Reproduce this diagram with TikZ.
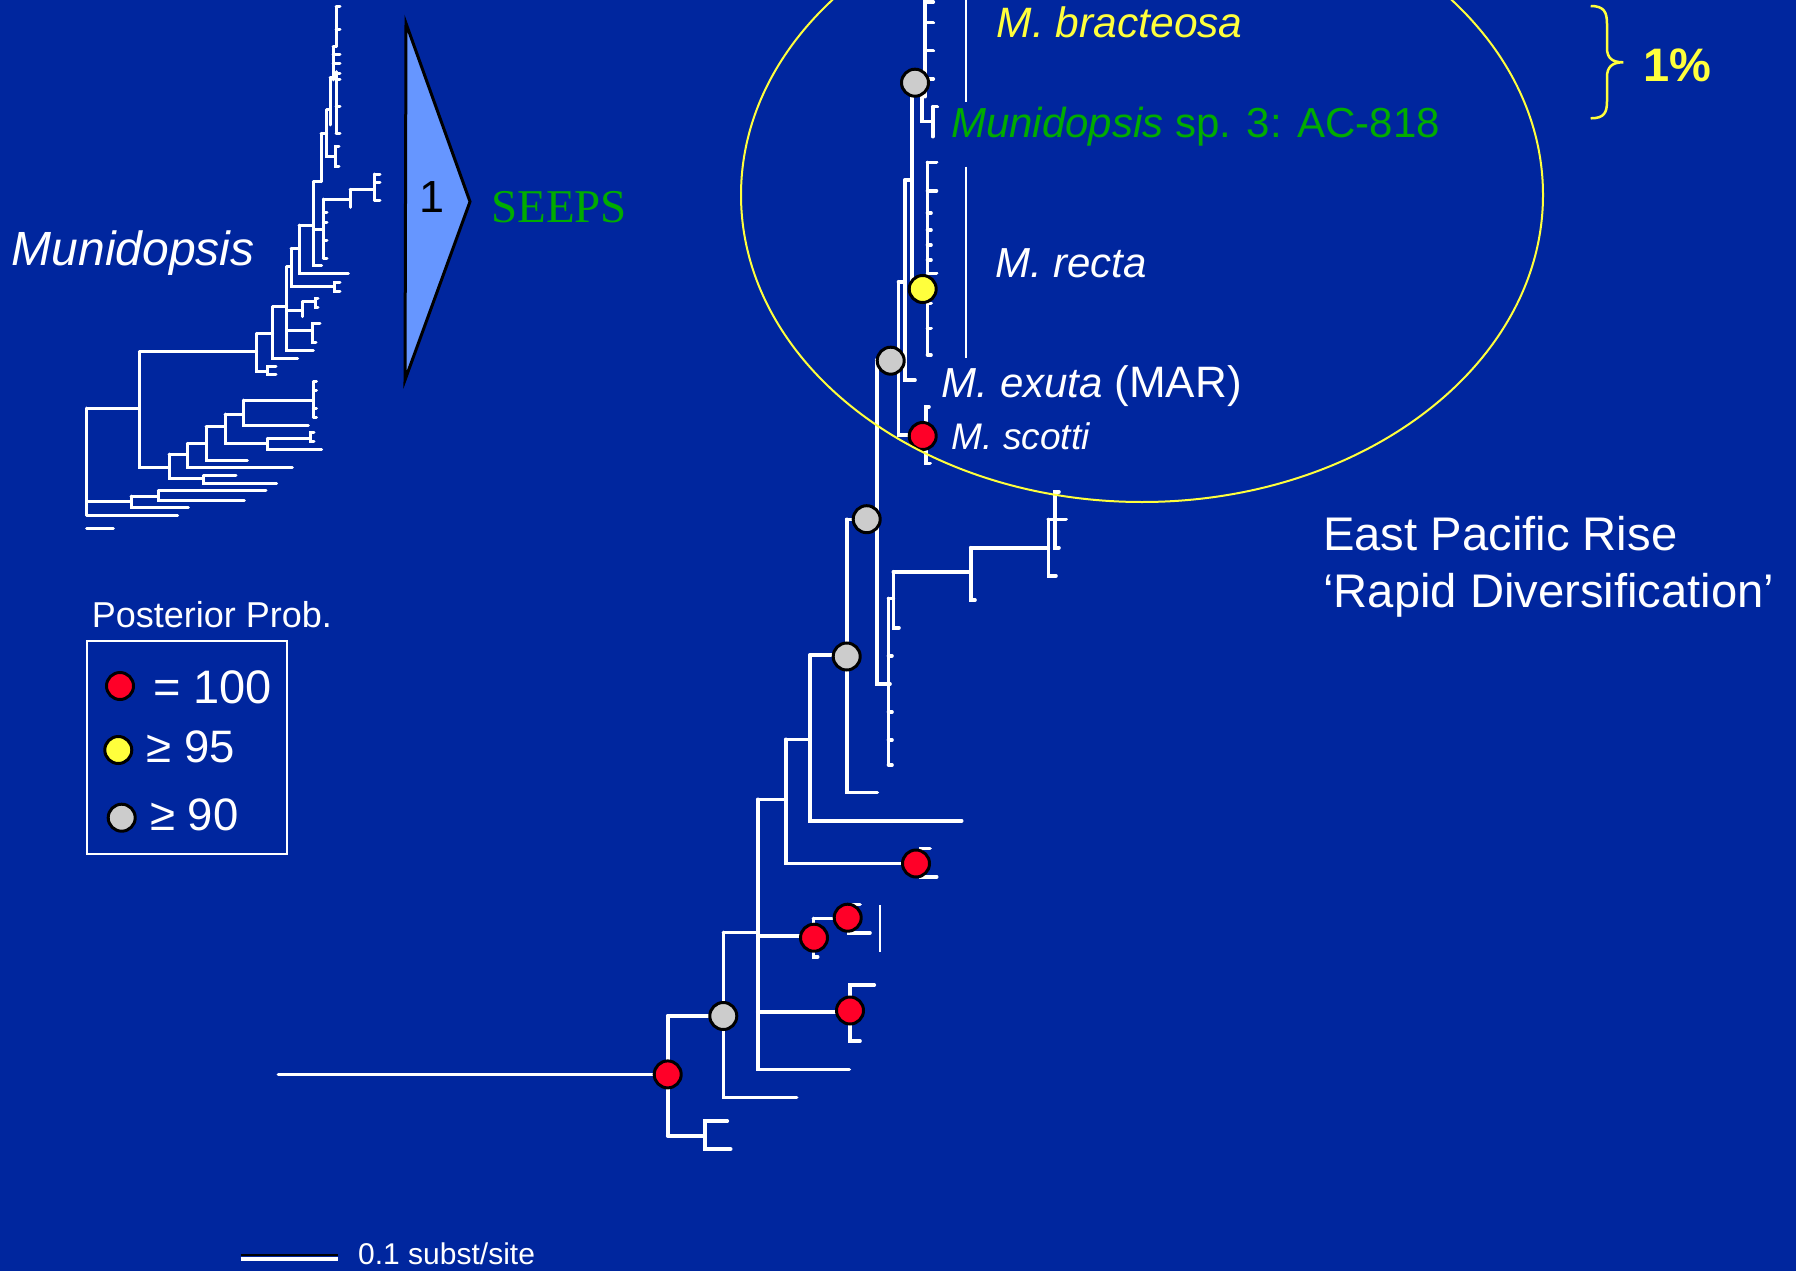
\documentclass[tikz,border=0pt]{standalone}
\usepackage{fontspec}
\setmainfont{Liberation Sans}
\newfontfamily\seriffam{Liberation Serif}
\definecolor{bgblue}{RGB}{0,38,158}
\definecolor{ppyellow}{RGB}{255,255,60}
\definecolor{ppgreen}{RGB}{0,172,0}
\definecolor{ppred}{RGB}{255,0,40}
\definecolor{ppgrey}{RGB}{204,204,204}
\definecolor{trifill}{RGB}{102,150,255}
\newcommand{\fsz}[1]{\fontsize{#1}{#1}\selectfont}
\tikzset{
  br/.style={white, line width=3.6pt, line cap=round},
  lbr/.style={white, line width=3pt, line cap=round},
  bar/.style={white, line width=2.5pt},
  pp/.style={circle, draw=black, line width=3pt, minimum size=27pt, inner sep=0pt},
  lab/.style={anchor=base west, inner sep=0pt, text=white},
}
\begin{document}
\begin{tikzpicture}[x=1pt,y=-1pt]
\fill[bgblue] (0,0) rectangle (1796,1271);
\useasboundingbox (0,0) rectangle (1796,1271);

% ---------------- left (seeps) tree ----------------
\draw[lbr] (86.7,408) -- (86.7,515);
\draw[lbr] (86.7,408) -- (139.3,408);
\draw[lbr] (86.7,501.7) -- (131,501.7);
\draw[lbr] (86.7,515) -- (177.7,515);
\draw[lbr] (86.7,528.3) -- (113.3,528.3);
\draw[lbr] (131,496) -- (131,507.7) -- (188.3,507.7);
\draw[lbr] (131,496) -- (158.3,496);
\draw[lbr] (158.3,490.7) -- (158.3,500) -- (244.3,500);
\draw[lbr] (158.3,490.7) -- (266,490.7);
\draw[lbr] (139.3,351.7) -- (139.3,467.7) -- (169,467.7);
\draw[lbr] (139.3,351.7) -- (256.7,351.7);
\draw[lbr] (169,454) -- (169,478.3) -- (203.3,478.3);
\draw[lbr] (203.3,475.7) -- (203.3,483.3) -- (276.7,483.3);
\draw[lbr] (203.3,475.7) -- (236,475.7);
\draw[lbr] (169,454) -- (187.3,454);
\draw[lbr] (187.3,443.3) -- (187.3,467.7) -- (292.3,467.7);
\draw[lbr] (187.3,443.3) -- (206,443.3);
\draw[lbr] (206,426.7) -- (206,460) -- (247.3,460);
\draw[lbr] (206,426.7) -- (225,426.7);
\draw[lbr] (225,414) -- (225,443.3) -- (267.3,443.3);
\draw[lbr] (267.3,438.3) -- (267.3,449.3) -- (321.7,449.3);
\draw[lbr] (267.3,438.3) -- (310,438.3);
\draw[lbr] (314,432.7) -- (310,432.7) -- (310,441.7) -- (314,441.7);
\draw[lbr] (225,414) -- (243.3,414);
\draw[lbr] (243.3,400) -- (243.3,425) -- (308.3,425);
\draw[lbr] (243.3,400) -- (313.3,400);
\draw[lbr] (313.3,381.7) -- (313.3,417.3);
\foreach \yy in {381.7,390,408,417.3} \draw[lbr] (313.3,\yy) -- (316.5,\yy);
\draw[lbr] (256.7,333.3) -- (256.7,371) -- (267.3,371);
\draw[lbr] (276,366) -- (267.3,366) -- (267.3,374.3) -- (276,374.3);
\draw[lbr] (256.7,333.3) -- (272.7,333.3);
\draw[lbr] (272.7,306.7) -- (272.7,358.3) -- (297.7,358.3);
\draw[lbr] (272.7,306.7) -- (286.7,306.7);
\draw[lbr] (286.7,266.7) -- (286.7,350.7) -- (313.3,350.7);
\draw[lbr] (286.7,330.7) -- (312.3,330.7);
\draw[lbr] (320,323.3) -- (312.3,323.3) -- (312.3,342.3) -- (316,342.3);
\draw[lbr] (286.7,310) -- (302.3,310);
\draw[lbr] (302.3,301.7) -- (302.3,316.7);
\draw[lbr] (302.3,301.7) -- (315,301.7);
\draw[lbr] (318,298.3) -- (315,298.3) -- (315,307.3) -- (318,307.3);
\draw[lbr] (286.7,266.7) -- (291,266.7);
\draw[lbr] (291,248.3) -- (291,286) -- (334,286);
\draw[lbr] (340,282.7) -- (334,282.7) -- (334,291.7) -- (340,291.7);
\draw[lbr] (291,248.3) -- (299,248.3);
\draw[lbr] (299,225) -- (299,273.3) -- (348.3,273.3);
\draw[lbr] (299,225) -- (313.3,225);
\draw[lbr] (313.3,181.7) -- (313.3,265.7) -- (321.7,265.7);
\draw[lbr] (313.3,229) -- (323.3,229);
\draw[lbr] (323.3,199) -- (323.3,258.3);
\foreach \yy in {212,222,240,258.3} \draw[lbr] (323.3,\yy) -- (327,\yy);
\draw[lbr] (323.3,199) -- (350,199);
\draw[lbr] (350,189.3) -- (350,207.3);
\draw[lbr] (350,189.3) -- (374.3,189.3);
\draw[lbr] (374.3,174) -- (374.3,200);
\foreach \yy in {174,182.7,200} \draw[lbr] (374.3,\yy) -- (380,\yy);
\draw[lbr] (313.3,181.7) -- (321,181.7);
\draw[lbr] (321,133.3) -- (321,181.7);
\draw[lbr] (321,133.3) -- (326.7,133.3);
\draw[lbr] (326.7,110) -- (326.7,156.7) -- (335.3,156.7);
\draw[lbr] (339,146.7) -- (335.3,146.7) -- (335.3,166.7) -- (339,166.7);
\draw[lbr] (326.7,110) -- (330,110);
\draw[lbr] (330,78) -- (330,125);
\draw[lbr] (330,78) -- (333,78);
\draw[lbr] (336,71.7) -- (336,133.3);
\foreach \yy in {73.3,80,106.7,133.3} \draw[lbr] (336,\yy) -- (340,\yy);
\draw[lbr] (333,46.7) -- (333,80);
\foreach \yy in {55,63.3} \draw[lbr] (333,\yy) -- (340,\yy);
\draw[lbr] (333,46.7) -- (336,46.7);
\draw[lbr] (336,6.7) -- (336,46.7);
\foreach \yy in {6.7,30} \draw[lbr] (336,\yy) -- (340,\yy);

\node[lab, font=\fsz{48}\itshape] (munlab) at (11.5,265) {Munidopsis};

% collapsed clade
\draw[black, line width=3pt, fill=trifill, line join=miter] (406,23.3) -- (470,201.7) -- (405,380) -- cycle;
\node[font=\fsz{45}, text=black, inner sep=0pt] (one) at (431.7,196.7) {1};
\node[lab, font=\fsz{47}\seriffam, text=ppgreen] (seeps) at (491,222.7) {SEEPS};

% ---------------- legend ----------------
\node[lab, font=\fsz{36}] (pptitle) at (91.7,627.3) {Posterior Prob.};
\draw[white, line width=2pt] (87.3,640.7) rectangle (287.3,854);
\node[pp, fill=ppred] (lr) at (120,686) {};
\node[lab, font=\fsz{47}] (l100) at (153,703.3) {= 100};
\node[pp, fill=ppyellow] (ly) at (118.3,750) {};
\node[lab, font=\fsz{45.5}] (l95) at (146.7,762) {≥ 95};
\node[pp, fill=ppgrey] (lg) at (121.7,817.7) {};
\node[lab, font=\fsz{45.5}] (l90) at (150,830.5) {≥ 90};

% ---------------- scale bar ----------------
\draw[black, line width=2pt] (240.7,1255) -- (338.3,1255);
\draw[white, line width=4pt] (240.7,1258.5) -- (338.3,1258.5);
\node[lab, font=\fsz{30}] (scale) at (358,1264) {0.1 subst/site};

% ---------------- main tree ----------------
\draw[br] (278.3,1074.4) -- (667.7,1074.4);
\draw[br] (667.7,1016) -- (667.7,1135.7);
\draw[br] (667.7,1016) -- (723.3,1016);
\draw[br] (667.7,1135.7) -- (705,1135.7);
\draw[br] (727.3,1121) -- (705,1121) -- (705,1149) -- (730.7,1149);
\draw[br] (723.3,932.3) -- (723.3,1097.3) -- (796.7,1097.3);
\draw[br] (723.3,932.3) -- (757.7,932.3);
\draw[br] (757.7,799.3) -- (757.7,1069.3) -- (849.3,1069.3);
\draw[br] (757.7,1012) -- (850,1012);
\draw[br] (874.3,985) -- (850,985) -- (850,1041) -- (860,1041);
\draw[br] (757.7,936) -- (813.3,936);
\draw[br] (813.3,918.3) -- (813.3,956.7) -- (817.7,956.7);
\draw[br] (813.3,918.3) -- (848.3,918.3);
\draw[br] (860,904.3) -- (848.3,904.3) -- (848.3,932.7) -- (870,932.7);
\draw[bar] (880,905) -- (880,951.7);
\draw[br] (757.7,799.3) -- (785.7,799.3);
\draw[br] (785.7,739.3) -- (785.7,863.3) -- (921,863.3);
\draw[br] (930,848.3) -- (921,848.3) -- (921,876.7) -- (936.7,876.7);
\draw[br] (785.7,739.3) -- (810,739.3);
\draw[br] (810,655) -- (810,820.7) -- (961.7,820.7);
\draw[br] (810,655) -- (846.7,655);
\draw[br] (846.7,519.3) -- (846.7,792.3) -- (877.3,792.3);
\draw[br] (846.7,519.3) -- (876.7,519.3);
\draw[br] (876.7,360) -- (876.7,684) -- (890,684);
\draw[br] (876.7,360) -- (891,360);
\draw[br] (888.5,598.3) -- (888.5,765);
\foreach \yy in {655.7,712,740,765} \draw[br] (888.5,\yy) -- (892,\yy);
\draw[br] (888.5,598.3) -- (893.3,598.3);
\draw[br] (893.3,571.7) -- (893.3,627.7) -- (899,627.7);
\draw[br] (893.3,571.7) -- (970.7,571.7);
\draw[br] (970.7,547.7) -- (970.7,600) -- (975,600);
\draw[br] (970.7,547.7) -- (1048.3,547.7);
\draw[br] (1048.3,519.3) -- (1048.3,575.7) -- (1056,575.7);
\draw[br] (1048.3,519.3) -- (1066,519.3);
\draw[br] (1059,491.7) -- (1055,491.7) -- (1055,547.7) -- (1059,547.7);
% upper part
\draw[br] (898.5,281.7) -- (898.5,435) -- (922.7,435);
\draw[br] (898.5,281.7) -- (905,281.7);
\draw[br] (929,406.7) -- (926,406.7) -- (926,463.3) -- (930,463.3);
\draw[br] (905,180) -- (905,380) -- (915,380);
\draw[br] (905,180) -- (911.7,180);
\draw[br] (911.7,82.7) -- (911.7,289) -- (922.7,289);
\draw[br] (927.5,162.3) -- (927.5,355);
\foreach \yy in {162.3,190.7,273.3} \draw[br] (927.5,\yy) -- (936.5,\yy);
\foreach \yy in {213,230,245,260,303.3,328.3,355} \draw[br] (927.5,\yy) -- (931,\yy);
\draw[br] (911.7,82.7) -- (921.7,82.7);
\draw[br] (921.7,82.7) -- (921.7,121.7) -- (932.7,121.7);
\draw[br] (932.7,106.7) -- (932.7,136.7);
\draw[br] (932.7,106.7) -- (937.3,106.7);
\draw[br] (925,-5) -- (925,96.7);
\foreach \yy in {2,22.7,50.7,79} \draw[br] (925,\yy) -- (933.3,\yy);
\draw[bar] (966,0) -- (966,101.7);
\draw[bar] (966,166.7) -- (966,358.3);

% support circles
\node[pp, fill=ppred] (n1) at (667.7,1074.4) {};
\node[pp, fill=ppgrey] (n2) at (723.3,1016) {};
\node[pp, fill=ppred] (n3) at (850,1010.5) {};
\node[pp, fill=ppred] (n4) at (814,937.7) {};
\node[pp, fill=ppred] (n5) at (847.7,917.7) {};
\node[pp, fill=ppred] (n6) at (916,863.5) {};
\node[pp, fill=ppgrey] (n7) at (846.7,656.5) {};
\node[pp, fill=ppgrey] (n8) at (866.7,519.2) {};
\node[pp, fill=ppgrey] (n9) at (890.7,360.7) {};
\node[pp, fill=ppred] (n10) at (922.7,436) {};
\node[pp, fill=ppyellow] (n11) at (922.7,289) {};
\node[pp, fill=ppgrey] (n12) at (915,82.7) {};

% labels
\node[lab, font=\fsz{42.5}\itshape, text=ppyellow] (brac) at (996.7,37.3) {M. bracteosa};
\node[lab, font=\fsz{42}, text=ppgreen] (sp3) at (951,137.3) {\textit{Munidopsis} sp. 3: AC-818};
\node[lab, font=\fsz{42}\itshape] (recta) at (995,277.5) {M. recta};
\node[lab, font=\fsz{42}] (exuta) at (941.7,397) {\textit{M. exuta} \fsz{44}(MAR)};
\node[lab, font=\fsz{37}\itshape] (scotti) at (951.7,449.3) {M. scotti};
\node[lab, font=\fsz{47.2}] (epr1) at (1323,550) {East Pacific Rise};
\node[lab, font=\fsz{47.2}] (epr2) at (1323,607) {‘Rapid Diversification’};

% ellipse, brace
\draw[ppyellow, line width=2pt] (1142,195) ellipse [x radius=401, y radius=307];
\draw[ppyellow, line width=2.5pt] (1590.7,6) .. controls (1604,6) and (1607,12) .. (1607,24) -- (1607,48) .. controls (1607,58) and (1612,62.3) .. (1623.3,62.3) .. controls (1612,62.3) and (1607,67) .. (1607,77) -- (1607,101) .. controls (1607,113) and (1604,118.3) .. (1590.7,118.3);
\node[lab, font=\fsz{47}\bfseries, text=ppyellow] (pct) at (1643,81.7) {1\%};
\end{tikzpicture}
\end{document}
